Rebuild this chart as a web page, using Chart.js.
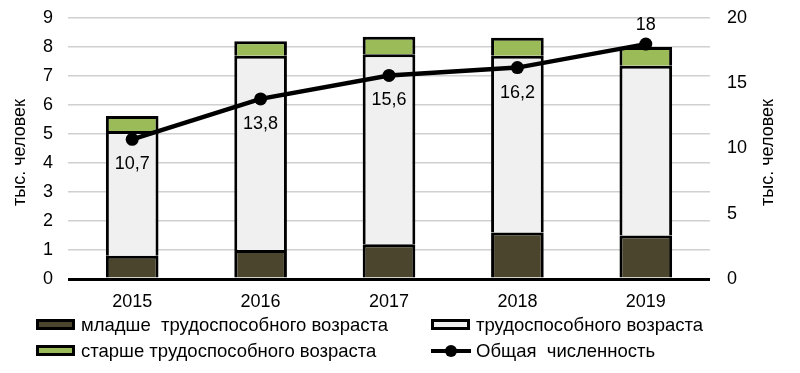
<!DOCTYPE html>
<html>
<head>
<meta charset="utf-8">
<script src="https://cdn.jsdelivr.net/npm/chart.js@4/dist/chart.umd.min.js"></script>
<style>
  html, body { margin: 0; padding: 0; background: #fff; }
  #wrap { position: relative; width: 800px; height: 373px; font-family: 'Liberation Sans', Arial, sans-serif; }
  canvas { position: absolute; left: 0; top: 0; }
  .lg { position: absolute; font-size: 18.5px; color: #000; line-height: 18px; white-space: pre; }
  .box { position: absolute; width: 33px; height: 5px; border: 3px solid #000; }
</style>
</head>
<body>
<div id="wrap">
  <canvas id="c" width="800" height="373"></canvas>
</div>
<script>
const categories = ['2015', '2016', '2017', '2018', '2019'];
const youngValues = [0.8, 1.0, 1.2, 1.6, 1.5];
const workingValues = [4.3, 6.7, 6.55, 6.1, 5.85];
const olderValues = [0.52, 0.5, 0.6, 0.62, 0.65];
const totalValues = [10.7, 13.8, 15.6, 16.2, 18];
const totalLabels = ['10,7', '13,8', '15,6', '16,2', '18'];
const labelSide = ['below', 'below', 'below', 'below', 'above'];
const seriesNames = ['младше  трудоспособного возраста', 'трудоспособного возраста', 'старше трудоспособного возраста', 'Общая  численность'];
const axisTitle = 'тыс. человек';

const COLORS = { young: '#4a452c', working: '#f0f0f0', older: '#9bbb59' };
const FONT = "'Liberation Sans', Arial, sans-serif";

const labelsPlugin = {
  id: 'labelsPlugin',
  afterDatasetsDraw(chart) {
    const ctx = chart.ctx;
    const meta = chart.getDatasetMeta(3);
    ctx.save();
    ctx.font = '18px ' + FONT;
    ctx.fillStyle = '#000';
    ctx.textAlign = 'center';
    ctx.textBaseline = 'middle';
    meta.data.forEach((pt, i) => {
      const dy = labelSide[i] === 'above' ? -19 : 25;
      ctx.fillText(totalLabels[i], pt.x, pt.y + dy);
    });
    ctx.restore();
  },
  afterDraw(chart) {
    const ctx = chart.ctx;
    const a = chart.chartArea;
    const cy = (a.top + a.bottom) / 2;
    ctx.save();
    ctx.font = '18px ' + FONT;
    ctx.fillStyle = '#000';
    ctx.textAlign = 'center';
    ctx.textBaseline = 'middle';
    [20, 768].forEach(x => {
      ctx.save();
      ctx.translate(x, cy + 4);
      ctx.rotate(-Math.PI / 2);
      ctx.fillText(axisTitle, 0, 0);
      ctx.restore();
    });
    ctx.restore();
  }
};

function fitV(width) {
  return function (s) { s.width = width; s.paddingTop = 0; s.paddingBottom = 0; };
}

new Chart(document.getElementById('c'), {
  data: {
    labels: categories,
    datasets: [
      { type: 'bar', label: seriesNames[0], data: youngValues, backgroundColor: COLORS.young, borderColor: '#000', borderWidth: 3, stack: 's', yAxisID: 'y', order: 1 },
      { type: 'bar', label: seriesNames[1], data: workingValues, backgroundColor: COLORS.working, borderColor: '#000', borderWidth: 3, stack: 's', yAxisID: 'y', order: 1 },
      { type: 'bar', label: seriesNames[2], data: olderValues, backgroundColor: COLORS.older, borderColor: '#000', borderWidth: 3, stack: 's', yAxisID: 'y', order: 1 },
      { type: 'line', label: seriesNames[3], data: totalValues, borderColor: '#000', backgroundColor: '#000', borderWidth: 4.5, pointRadius: 6.5, pointHoverRadius: 6.5, pointBackgroundColor: '#000', pointBorderWidth: 0, tension: 0, yAxisID: 'y1', order: 0 }
    ]
  },
  options: {
    responsive: false,
    animation: false,
    devicePixelRatio: 1,
    layout: { padding: { top: 18, left: 0, right: 0, bottom: 0 } },
    datasets: { bar: { categoryPercentage: 1, barPercentage: 0.41 } },
    plugins: { legend: { display: false }, tooltip: { enabled: false } },
    scales: {
      x: {
        stacked: true,
        grid: { display: false, drawTicks: false },
        border: { display: false },
        ticks: { color: '#000', font: { family: FONT, size: 18 }, padding: 12, maxRotation: 0 },
        afterFit(s) { s.height = 94; s.paddingLeft = 0; s.paddingRight = 0; }
      },
      y: {
        position: 'left',
        stacked: true,
        min: 0, max: 9,
        ticks: { stepSize: 1, color: '#000', font: { family: FONT, size: 18 }, padding: 15 },
        grid: {
          drawTicks: false,
          color: ctx => ctx.tick && ctx.tick.value === 0 ? '#000' : '#d0d0d0',
          lineWidth: ctx => ctx.tick && ctx.tick.value === 0 ? 3 : 1.5
        },
        border: { display: false },
        afterFit: fitV(68)
      },
      y1: {
        position: 'right',
        min: 0, max: 20,
        ticks: { stepSize: 5, color: '#000', font: { family: FONT, size: 18 }, padding: 17 },
        grid: { display: false, drawTicks: false },
        border: { display: false },
        afterFit: fitV(90)
      }
    }
  },
  plugins: [labelsPlugin]
});

// HTML legend built from series names
const wrap = document.getElementById('wrap');
const legendItems = [
  { name: seriesNames[0], color: COLORS.young, x: 36, y: 319, kind: 'box' },
  { name: seriesNames[1], color: COLORS.working, x: 431, y: 319, kind: 'box' },
  { name: seriesNames[2], color: COLORS.older, x: 36, y: 345, kind: 'box' },
  { name: seriesNames[3], color: '#000', x: 431, y: 345, kind: 'line' }
];
legendItems.forEach(it => {
  if (it.kind === 'box') {
    const b = document.createElement('div');
    b.className = 'box';
    b.style.left = it.x + 'px';
    b.style.top = it.y + 'px';
    b.style.background = it.color;
    wrap.appendChild(b);
  } else {
    const l = document.createElement('div');
    l.style.cssText = 'position:absolute;left:' + it.x + 'px;top:' + (it.y + 4) + 'px;width:40px;height:4px;background:#000;';
    wrap.appendChild(l);
    const d = document.createElement('div');
    d.style.cssText = 'position:absolute;left:' + (it.x + 14) + 'px;top:' + (it.y) + 'px;width:12px;height:12px;border-radius:6px;background:#000;';
    wrap.appendChild(d);
  }
  const t = document.createElement('div');
  t.className = 'lg';
  t.textContent = it.name;
  t.style.left = (it.x + 45) + 'px';
  t.style.top = (it.y - 3) + 'px';
  wrap.appendChild(t);
});
</script>
</body>
</html>
